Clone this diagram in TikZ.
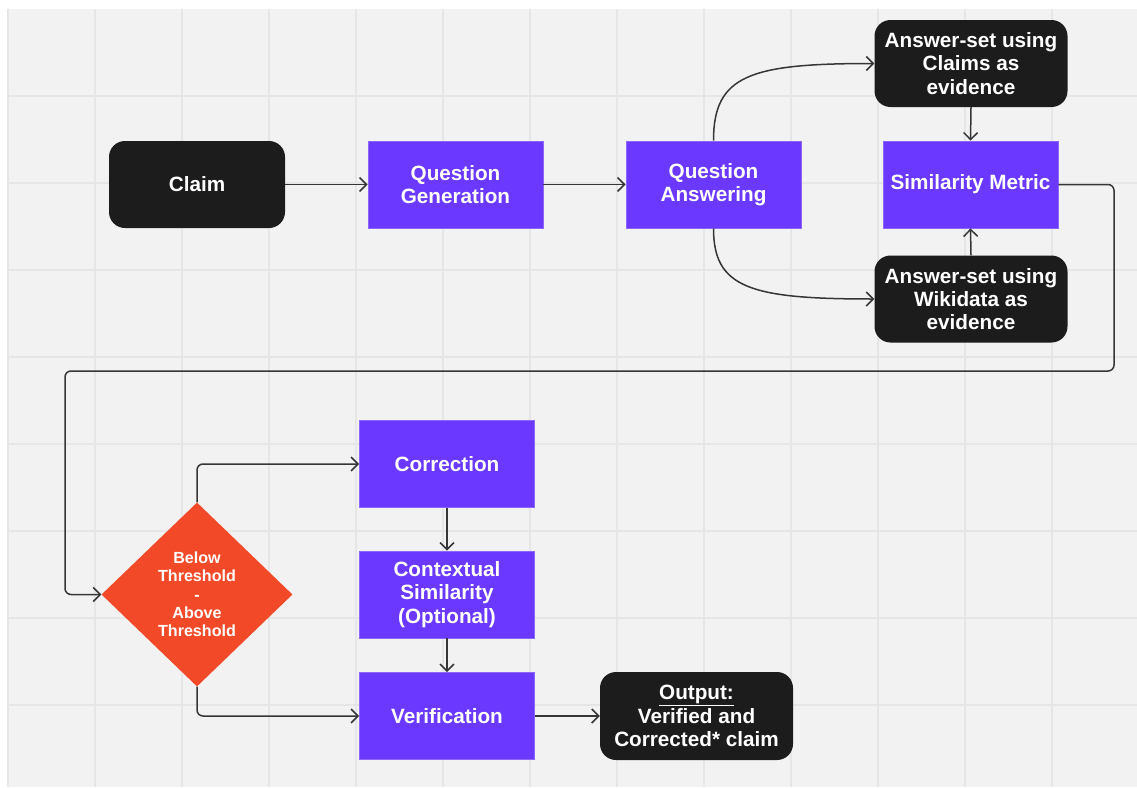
\documentclass[tikz,border=0pt]{standalone}
\usepackage{fontspec}
\setmainfont{Liberation Sans}
\usetikzlibrary{shapes.geometric,arrows.meta}
\definecolor{bgrey}{HTML}{F2F2F2}
\definecolor{gridc}{HTML}{E6E6E6}
\definecolor{purp}{HTML}{6A38FF}
\definecolor{purpb}{HTML}{8C66FF}
\definecolor{blk}{HTML}{1C1C1C}
\definecolor{orng}{HTML}{F24A28}
\definecolor{linec}{HTML}{363636}
\tikzset{
  every node/.style={font=\bfseries\fontsize{20.7}{23.3}\selectfont, text=white, align=center, inner sep=0pt},
  purpbox/.style={rectangle, fill=purp, draw=purpb, line width=0.8pt, minimum width=175pt, minimum height=87pt},
  blkbox/.style={rectangle, rounded corners=16pt, fill=blk, minimum width=193pt, minimum height=87pt},
  decis/.style={diamond, fill=orng, minimum width=191pt, minimum height=184pt, font=\bfseries\fontsize{16.1}{18.3}\selectfont},
  arr/.style={draw=linec, line width=1.5pt, -{Straight Barb[length=7pt,width=14pt]}},
  gridline/.style={gridc, line width=1.1pt},
}
\begin{document}
\begin{tikzpicture}[x=1pt,y=-1pt]
\useasboundingbox (0,0) rectangle (1137,787);
\fill[white] (0,0) rectangle (1137,787);
\fill[bgrey] (7,9) rectangle (1137,787);
\foreach \gx in {95,182,...,1137} {\draw[gridline] (\gx,9) -- (\gx,787);}
\foreach \gy in {96,183,...,787} {\draw[gridline] (7,\gy) -- (1137,\gy);}
\draw[gridline] (8,9) -- (8,787);

% nodes
\node[blkbox, minimum width=176pt] (claim) at (197,184.5) {Claim};
\node[purpbox] (qg) at (455.5,184.5) {Question\\Generation};
\node[purpbox] (qa) at (713.5,184.5) {Question\\Answering};
\node[purpbox] (sim) at (970.5,184.5) {Similarity Metric};
\node[blkbox] (asc) at (971,63.5) {Answer-set using\\Claims as\\evidence};
\node[blkbox] (asw) at (971,299) {Answer-set using\\Wikidata as\\evidence};
\node[decis] (dia) at (197,594.5) {Below\\Threshold\\-\\Above\\Threshold};
\node[purpbox] (corr) at (447,464) {Correction};
\node[purpbox] (ctx) at (447,594.5) {Contextual\\Similarity\\(Optional)};
\node[purpbox] (ver) at (447,716) {Verification};
\node[blkbox, minimum height=88pt] (out) at (696.5,716) {\underline{Output:}\\Verified and\\Corrected* claim};

% connectors
\draw[arr] (claim.east) -- (qg.west);
\draw[arr] (qg.east) -- (qa.west);
\draw[arr] (qa.north) .. controls (713.5,75) and (750,63.5) .. (asc.west);
\draw[arr] (qa.south) .. controls (713.5,288) and (750,299) .. (asw.west);
\draw[arr] (asc.south) -- (sim.north);
\draw[arr] (asw.north) -- (sim.south);
\coordinate (c1) at (1114,371);
\coordinate (c2) at (65,371);
\draw[arr, rounded corners=6pt] (sim.east) -| (c1) -- (c2) |- (dia.west);
\draw[arr, rounded corners=6pt] (dia.north) |- (corr.west);
\draw[arr, rounded corners=6pt] (dia.south) |- (ver.west);
\draw[arr] (corr.south) -- (ctx.north);
\draw[arr] (ctx.south) -- (ver.north);
\draw[arr] (ver.east) -- (out.west);
\end{tikzpicture}
\end{document}
